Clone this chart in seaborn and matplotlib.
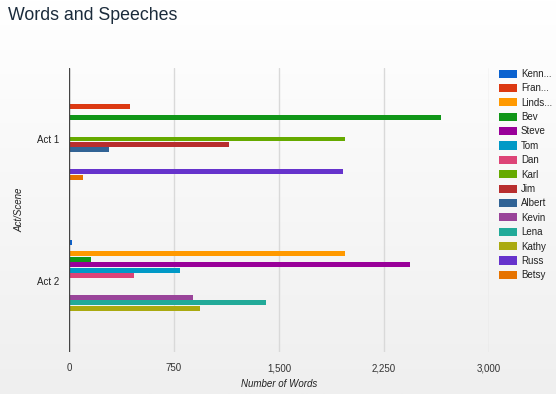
import numpy as np
import pandas as pd
import matplotlib
matplotlib.use("Agg")
import matplotlib.pyplot as plt
import seaborn as sns
from matplotlib.colors import LinearSegmentedColormap
from matplotlib.patches import Patch

acts = ["Act 1", "Act 2"]
characters = ["Kenn...", "Fran...", "Linds...", "Bev", "Steve", "Tom", "Dan", "Karl",
              "Jim", "Albert", "Kevin", "Lena", "Kathy", "Russ", "Betsy"]
colors = ["#0b62cf", "#dc3912", "#ff9900", "#109618", "#990099", "#0099c6", "#dd4477",
          "#66aa00", "#b82e2e", "#316395", "#994499", "#22aa99", "#aaaa11", "#6633cc", "#e67300"]
# words per character (None = no bar)
act1_words = [None, 433, None, 2660, None, None, None, 1970, 1140, 288, None, None, None, 1960, 100]
act2_words = [24, 5, 1970, 160, 2435, 793, 462, None, None, None, 888, 1404, 938, None, None]

xticks = [0, 750, 1500, 2250, 3000]
xtick_labels = ["0", "750", "1,500", "2,250", "3,000"]

rows = []
for act, vals in zip(acts, [act1_words, act2_words]):
    for ch, v in zip(characters, vals):
        if v is not None:
            rows.append({"Act": act, "Character": ch, "Words": v})
df = pd.DataFrame(rows)

sns.set_style("white")
plt.rcParams["font.family"] = ["Liberation Sans", "DejaVu Sans"]

fig = plt.figure(figsize=(5.56, 3.94), dpi=100)
# background gradient
bg = fig.add_axes([0, 0, 1, 1], zorder=-10)
grad = np.linspace(0, 1, 256).reshape(-1, 1)
cmap = LinearSegmentedColormap.from_list("bg", ["#ffffff", "#efefef"])
bg.imshow(grad, aspect="auto", cmap=cmap, extent=[0, 1, 0, 1], origin="upper")
bg.axis("off")

ax = fig.add_axes([69/556, 1-352/394, (489-69)/556, (352-68)/394])
ax.set_facecolor("none")

sns.barplot(data=df, y="Act", x="Words", hue="Character", order=acts,
            hue_order=characters, palette=colors, orient="h", width=0.575,
            gap=0.1, saturation=1, linewidth=0, ax=ax, legend=False,
            errorbar=None, zorder=3)

ax.set_xlim(0, 3000)
ax.set_ylim(1.5, -0.5)
ax.set_xticks(xticks)
ax.set_xticklabels(xtick_labels, fontsize=7, color="#333333")
ax.tick_params(axis="x", length=0, pad=8)
ax.tick_params(axis="y", length=0, pad=7, labelsize=7, labelcolor="#222222")
for x in xticks[1:]:
    ax.axvline(x, color="#d9d9d9", lw=1, zorder=1)
ax.axvline(0, color="#444444", lw=1, zorder=4)
for s in ax.spines.values():
    s.set_visible(False)
ax.set_xlabel("Number of Words", fontsize=7, style="italic", color="#222222")
ax.xaxis.set_label_coords(0.5, -(379-352)/(352-68))
ax.set_ylabel("Act/Scene", fontsize=7, style="italic", color="#222222")
ax.yaxis.set_label_coords(-(69-24)/(489-69), (352-210)/(352-68))

fig.text(8/556, 1-16/394, "Words and Speeches", fontsize=12.8, color="#1b2b3b",
         va="center", ha="left")

handles = [Patch(facecolor=c, edgecolor="none") for c in colors]
leg = fig.legend(handles, characters, loc="upper left", bbox_to_anchor=(499/556, 1-69/394),
                 frameon=False, fontsize=7, handlelength=1.9, handleheight=0.9,
                 handletextpad=0.35, labelspacing=0.45, borderaxespad=0, borderpad=0)
for t in leg.get_texts():
    t.set_color("#222222")

fig.savefig("out.png", dpi=100)
